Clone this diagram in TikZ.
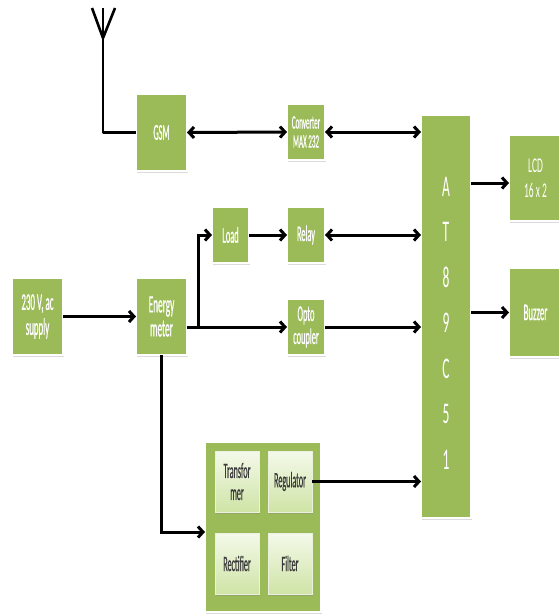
\documentclass[tikz,border=0pt]{standalone}
\usepackage{fontspec}
\setmainfont{Carlito}
\newfontfamily\narrowfont[FakeStretch=0.37,FakeBold=0.5]{Carlito}
\newfontfamily\midfont[FakeStretch=0.45]{Carlito}
\usetikzlibrary{arrows.meta,shadows,calc}
\definecolor{boxgreen}{HTML}{9BBB59}
\definecolor{lightgtop}{HTML}{F4F9EA}
\definecolor{lightgbot}{HTML}{CFE4A6}
\definecolor{innertext}{HTML}{3A3A3A}
\begin{document}
\begin{tikzpicture}[x=1pt,y=-1pt,
  blk/.style={draw=white, line width=1.8pt, fill=boxgreen, inner sep=0pt, outer sep=0pt,
    text=white, align=center,
    drop shadow={shadow xshift=0.6pt, shadow yshift=-1.8pt, opacity=0.28}},
  inr/.style={draw=white!80!boxgreen, line width=0.6pt, top color=lightgtop, bottom color=lightgbot,
    inner sep=0pt, outer sep=0pt, text=innertext, align=center,
    minimum width=44pt, minimum height=61pt,
    font={\narrowfont\fontsize{22}{22}\selectfont},
    drop shadow={shadow xshift=0.6pt, shadow yshift=-1.6pt, opacity=0.35}},
  arr/.style={line width=3pt, -{Straight Barb[length=5pt,width=11pt]}},
  darr/.style={line width=3pt, {Straight Barb[length=5pt,width=11pt]}-{Straight Barb[length=5pt,width=11pt]}},
  plain/.style={line width=2.6pt, line join=round}
]
\fill[white] (0,0) rectangle (558,616);
\useasboundingbox (0,0) rectangle (558,616);

% blocks
\node[blk, minimum width=51pt, minimum height=77pt, font={\narrowfont\fontsize{22.5}{23}\selectfont}] (gsm) at (161.5,132.5) {GSM};
\node[blk, minimum width=38pt, minimum height=56pt, font={\narrowfont\fontsize{19}{19}\selectfont}] (conv) at (306,132) {Converter\\MAX 232};
\node[blk, minimum width=50pt, minimum height=403pt] (mcu) at (446,316.5) {};
\node[text=white, inner sep=0pt, align=center, font={\midfont\fontsize{30}{45.5}\selectfont}] (mcul) at (446,323) {A\\T\\8\\9\\C\\5\\1};
\node[blk, minimum width=53pt, minimum height=86pt, font={\midfont\fontsize{21}{25}\selectfont}] (lcd) at (535.5,178) {LCD\\16 x 2};
\node[blk, minimum width=53pt, minimum height=89pt, font={\narrowfont\fontsize{24}{24}\selectfont}] (buzz) at (535.5,312.5) {Buzzer};
\node[blk, minimum width=38pt, minimum height=56pt, font={\narrowfont\fontsize{22.5}{23}\selectfont}] (relay) at (306,235) {Relay};
\node[blk, minimum width=38pt, minimum height=56pt, font={\narrowfont\fontsize{22.5}{23}\selectfont}] (opto) at (306,327) {Opto\\coupler};
\node[blk, minimum width=37pt, minimum height=56pt, font={\narrowfont\fontsize{22.5}{23}\selectfont}] (load) at (230.5,235) {Load};
\node[blk, minimum width=51pt, minimum height=77pt, font={\narrowfont\fontsize{24}{25}\selectfont}] (supply) at (37.5,316.5) {230 V, ac\\supply};
\node[blk, minimum width=51pt, minimum height=77pt, font={\narrowfont\fontsize{25}{24}\selectfont}] (meter) at (161.5,316.5) {Energy\\meter};
\node[blk, minimum width=116pt, minimum height=170pt] (power) at (263,527) {};
\node[inr] (trans) at (237,481.5) {Transfor\\mer};
\node[inr] (reg) at (290,481.5) {Regulator};
\node[inr] (rect) at (237,563.5) {Rectifier};
\node[inr] (filt) at (290,563.5) {Filter};

% antenna
\coordinate (antTop) at (103,8);
\coordinate (antBase) at (103,38);
\coordinate (antL) at (92,8);
\coordinate (antR) at (115,8);
\draw[plain] (antL) -- (antBase) -- (antR);
\draw[plain] (antTop) |- (gsm.west);

% connectors
\coordinate (lcdin) at ([yshift=-5pt]lcd.west);
\coordinate (pwrin) at ([yshift=-5pt]power.west);
\draw[darr] (gsm.east) -- (conv.west);
\draw[darr] (conv.east) -- (conv.east -| mcu.west);
\draw[arr] (mcu.east |- lcdin) -- (lcdin);
\draw[arr] (mcu.east |- buzz.west) -- (buzz.west);
\draw[darr] (relay.east) -- (relay.east -| mcu.west);
\draw[arr] (load.east) -- (relay.west);
\draw[arr] (opto.east) -- (opto.east -| mcu.west);
\draw[arr] (supply.east) -- (meter.west);
\draw[arr] (meter.east |- opto.west) -- (opto.west);
\coordinate (br) at (198,327);
\draw[arr] (br) |- (load.west);
\draw[arr] (meter.south) |- (pwrin);
\draw[arr] (reg.east) -- (reg.east -| mcu.west);
\end{tikzpicture}
\end{document}
